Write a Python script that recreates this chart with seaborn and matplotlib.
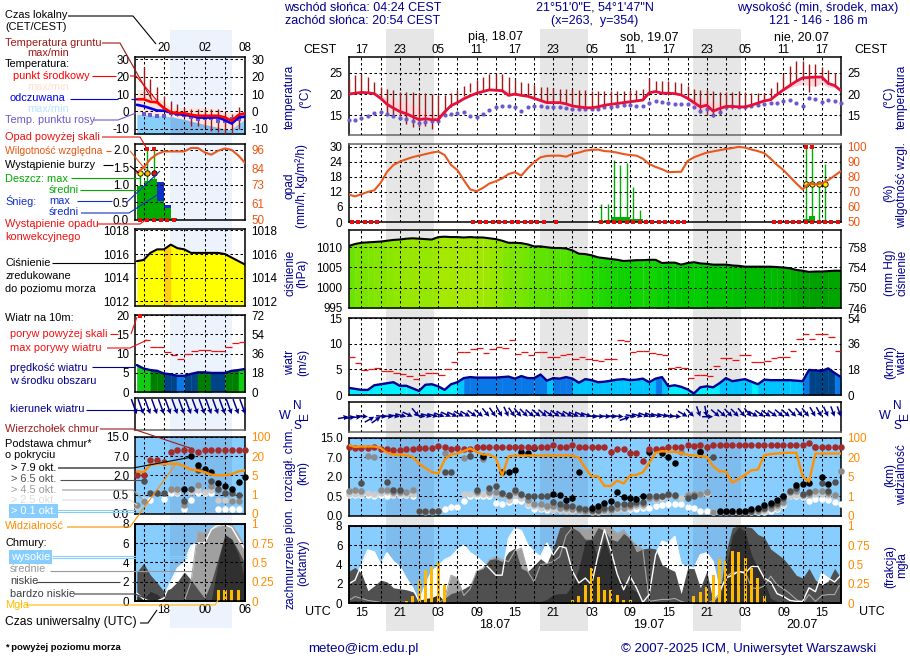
import numpy as np
import matplotlib
matplotlib.use("Agg")
import matplotlib.pyplot as plt
from matplotlib.colors import LinearSegmentedColormap, Normalize
import seaborn as sns

N = np.nan
NAVY = '#000090'
RH_COL = '#e8581f'
VIS_COL = '#ff8c00'
FOG_COL = '#ffb900'
SKY = '#87ceff'
SKY_NIGHT = '#7fbcee'
BROWN = '#a52a2a'

# main panels: hours since 13 UTC on 17.07
hours = np.arange(78)
night_start = [5.9, 29.9, 53.9]
night_end = [13.4, 37.4, 61.4]
grid_hours = np.arange(2, 78, 3)
cest_labels = ['17', '', '23', '', '05', '', '11', '', '17', '', '23', '', '05', '',
               '11', '', '17', '', '23', '', '05', '', '11', '', '17', '']
utc_labels = ['15', '', '21', '', '03', '', '09', '', '15', '', '21', '', '03', '',
              '09', '', '15', '', '21', '', '03', '', '09', '', '15', '']

temp = [20.0, 20.2, 20.4, 20.3, 20.1, 19.0, 17.6, 16.7, 15.9, 15.4,
        14.7, 14.0, 14.2, 14.0, 14.0, 15.8, 17.3, 18.0, 18.9, 19.6,
        20.2, 20.6, 21.0, 20.9, 20.8, 19.7, 20.0, 19.7, 19.5, 19.0,
        18.5, 18.0, 18.0, 18.0, 17.7, 17.2, 17.0, 16.8, 16.8, 17.0,
        17.4, 17.6, 17.8, 18.0, 18.2, 18.4, 18.6, 20.3, 20.6, 20.2,
        20.2, 20.1, 19.8, 19.0, 18.0, 17.0, 17.4, 16.0, 16.6, 17.1,
        17.1, 17.0, 17.0, 17.4, 17.9, 18.4, 18.7, 19.9, 21.0, 22.0,
        23.0, 23.8, 23.9, 24.0, 24.0, 22.5, 22.0, 20.8]
temp_max = [20.2, 20.4, 20.6, 20.5, 20.3, 19.8, 19.0, 18.6, 18.2, 18.0,
            17.5, 16.5, 16.0, 15.5, 15.2, 16.3, 17.5, 18.2, 19.1, 19.8,
            20.4, 20.8, 21.2, 21.2, 21.4, 20.6, 20.2, 19.9, 19.7, 19.2,
            18.7, 18.2, 18.2, 18.2, 17.9, 17.4, 17.2, 17.0, 17.0, 17.2,
            17.6, 17.8, 18.0, 18.2, 18.4, 18.6, 18.8, 20.5, 20.8, 20.4,
            20.4, 20.3, 20.0, 19.4, 19.0, 18.8, 18.5, 18.0, 18.0, 17.7,
            17.4, 17.2, 17.2, 17.6, 18.1, 18.6, 18.9, 20.1, 21.2, 22.2,
            23.2, 24.0, 24.1, 24.2, 24.2, 22.9, 22.2, 21.0]
temp_min = [19.8, 20.0, 20.2, 20.1, 19.9, 18.8, 17.4, 16.5, 15.7, 15.2,
            14.5, 13.8, 14.0, 13.8, 13.8, 15.6, 17.1, 17.8, 18.7, 19.4,
            20.0, 20.4, 20.8, 20.7, 20.6, 19.5, 19.8, 19.5, 19.3, 18.8,
            18.3, 17.8, 17.8, 17.8, 17.5, 17.0, 16.8, 16.6, 16.6, 16.8,
            17.2, 17.4, 17.6, 17.8, 18.0, 18.2, 18.4, 20.1, 20.4, 20.0,
            20.0, 19.9, 19.6, 18.8, 17.0, 16.2, 16.6, 15.4, 16.0, 16.8,
            16.9, 16.8, 16.8, 17.2, 17.7, 18.2, 18.5, 19.7, 20.8, 21.4,
            22.0, 22.2, 22.0, 21.8, 22.5, 21.6, 21.6, 20.6]
ground_max = [23.5, 24.4, 24.7, 24.1, 22.9, 21.7, 21.1, 20.9, 20.5, 20.5,
              20.4, 20.2, 20.2, 20.0, 19.9, 19.8, 20.2, 20.9, 21.9, 22.7,
              23.4, 24.0, 24.7, 24.7, 24.8, 24.1, 23.6, 22.9, 22.5, 22.1,
              21.6, 21.6, 21.5, 21.3, 21.3, 21.1, 20.9, 20.9, 20.8, 20.8,
              20.8, 20.8, 20.8, 20.8, 21.0, 21.0, 21.3, 23.7, 23.0, 23.0,
              23.0, 22.9, 22.5, 21.9, 21.2, 20.9, 20.9, 20.8, 20.5, 20.5,
              20.5, 20.7, 20.4, 20.3, 20.3, 20.3, 21.5, 22.9, 24.7, 26.6,
              27.8, 27.7, 27.0, 27.0, 26.4, 25.6, 25.0, 21.9]
ground_min = [20.0, 20.4, 20.4, 20.3, 20.1, 19.0, 15.0, 14.6, 14.8, 13.0,
              12.3, 12.2, 12.5, 11.7, 13.5, 15.5, 17.0, 18.0, 19.5, 20.5,
              20.3, 20.7, 21.0, 20.9, 20.8, 19.7, 20.0, 19.7, 19.5, 19.0,
              18.5, 18.0, 18.0, 18.0, 17.7, 17.2, 17.0, 16.8, 16.8, 17.0,
              17.4, 17.6, 17.8, 18.0, 18.2, 18.4, 18.6, 20.3, 20.6, 20.2,
              20.2, 20.1, 19.8, 19.0, 18.0, 15.6, 15.2, 14.7, 15.0, 16.5,
              16.6, 17.0, 17.0, 17.4, 17.9, 18.4, 18.7, 19.9, 21.0, 22.0,
              23.0, 23.8, 20.5, 22.0, 23.5, 22.5, 22.0, 20.8]
dew = [13.9, 13.9, 14.5, 14.8, 15.5, 15.9, 15.4, 14.8, 14.5, 14.1,
       13.8, 13.3, 13.5, 13.8, 13.6, 15.1, 15.4, 15.6, 15.7, 14.8,
       14.6, 15.4, 16.3, 17.0, 17.3, 17.3, 17.0, 16.0, 16.9, 17.3,
       17.3, 17.0, 17.0, 16.9, 16.7, 16.6, 16.5, 16.5, 16.6, 16.6,
       16.9, 17.0, 17.3, 17.4, 17.4, 17.2, 17.2, 18.0, 18.4, 18.2,
       17.8, 17.7, 17.7, 17.7, 17.0, 16.0, 16.5, 15.2, 15.7, 17.0,
       17.2, 17.0, 17.0, 17.2, 17.4, 17.7, 17.8, 18.0, 18.4, 18.6,
       17.8, 17.3, 19.0, 18.8, 18.2, 18.6, 18.4, 17.8]

humidity = [68.2, 67, 68.4, 70, 71, 76, 83.3, 87.8, 90, 91.6,
            93, 94, 95, 96, 96.7, 94.4, 87.8, 84.4, 77.8, 71.6,
            70.4, 72.6, 75.5, 77, 78.9, 81.8, 83, 80.7, 85.6, 89.6,
            92.9, 93.8, 94, 94, 93.3, 95.1, 96, 97.3, 97.8, 98,
            97, 96.7, 96, 95, 94.4, 94, 92, 88.4, 86.5, 85,
            83, 83.2, 83.3, 90.4, 92.9, 94.5, 96, 96.8, 97.6, 98.4,
            99, 99.8, 99.3, 98, 97, 95.6, 92, 87.8, 84.4, 80,
            75.6, 71.6, 75.6, 74.9, 75.6, 77.8, 80.7, 83.8]
rain_max_hours = [38.5, 39.5, 40.5, 41.5, 42.5, 43.5, 44.5, 45.5, 46.5, 47.5, 71.5, 72.5, 73.5, 74.5]
rain_max = [0.5, 7.3, 7.3, 24.7, 22.7, 23.6, 14, 4.7, 1.3, 0.5, 30, 30, 16, 23]
rain_mean_hours = [39.5, 40.5, 41.5, 42.5, 43.5, 44.5, 45.5, 71.5, 72.5]
rain_mean = [0.4, 0.7, 2, 2, 2, 1.3, 1.3, 1.3, 2.3]
precip_hours = [0.5, 1.5, 2.5, 3.5, 4.5, 19.5, 20.5, 21.5, 22.5, 23.5, 24.5, 25.5, 26.5, 27.5, 28.5,
                29.5, 30.5, 32.5, 39.5, 40.5, 41.5, 42.5, 43.5, 44.5, 45.5, 46.5, 47.5, 48.5, 49.5,
                50.5, 51.5, 52.5, 66.5, 67.5, 68.5, 69.5, 70.5, 71.5, 72.5, 73.5, 74.5, 75.5, 76.5]
over_scale_hours = [71.5, 72.5]
storm_hours = [71.5, 72.5, 73.5, 74.5]

pressure = [1010.3, 1010.8, 1011.1, 1011.2, 1011.3, 1011.4, 1011.6, 1011.8, 1011.9, 1012.1,
            1012.2, 1012.1, 1012.0, 1011.9, 1012.5, 1012.6, 1012.5, 1012.5, 1012.4, 1012.5,
            1012.4, 1012.4, 1012.2, 1012.0, 1011.6, 1011.1, 1011.1, 1011.0, 1010.7, 1010.2,
            1010.2, 1010.0, 1009.8, 1009.8, 1009.7, 1009.2, 1008.4, 1008.3, 1008.0, 1007.5,
            1007.3, 1007.1, 1006.9, 1006.6, 1006.7, 1006.8, 1006.8, 1006.9, 1006.9, 1006.1,
            1006.2, 1006.2, 1005.7, 1006.1, 1006.3, 1006.0, 1005.9, 1005.7, 1005.7, 1005.7,
            1005.5, 1005.4, 1005.2, 1005.2, 1005.2, 1005.2, 1005.2, 1005.1, 1005.0, 1004.8,
            1004.4, 1004.2, 1003.9, 1004.0, 1004.0, 1004.1, 1004.2, 1004.2]

wind = [1.4, 1.2, 1.0, 1.0, 1.9, 2.1, 2.3, 2.5, 1.8, 1.8,
        1.3, 0.8, 2.0, 2.1, 1.7, 1.0, 2.1, 2.5, 3.3, 3.5,
        3.4, 3.4, 3.4, 3.4, 3.5, 3.6, 3.2, 3.7, 3.3, 3.3,
        4.0, 2.8, 3.3, 3.2, 3.5, 3.2, 2.4, 3.1, 2.9, 2.5,
        2.6, 2.8, 3.0, 3.1, 2.9, 3.0, 3.2, 2.5, 3.2, 3.5,
        1.7, 1.9, 1.6, 1.1, 0.3, 1.5, 1.7, 1.5, 2.3, 3.3,
        2.7, 2.9, 3.1, 2.6, 2.1, 3.0, 2.9, 2.9, 2.9, 2.9,
        2.8, 2.7, 4.9, 4.8, 4.7, 5.2, 4.3, 3.5]
gust = [7.5, 6.3, 4.9, 5, 5.2, 4.6, 4.6, 4.3, 4.1, 3.7,
        3.1, 3.9, 4.3, 4.3, 3.9, 5.1, 6.4, 8.4, 8.4, 8.9,
        9.1, 8.2, 8.9, 9.3, 9.1, 10.7, 8.1, 8.4, 7.8, 8.4,
        8.4, 7.5, 7.5, 7.9, 8.1, 7.1, 7.5, 7.1, 6.8, 6.7,
        7.0, 7.1, 10.7, 10.5, 8.4, 8.6, 8.7, 8.3, 8.1, 7.9,
        5.3, 5.5, 5.3, 3.3, 3.9, 3.9, 3.7, 5.7, 7.3, 7.3,
        6.9, 7.9, 7.9, 6.5, 6.5, 6.7, 7.3, 7.5, 7.5, 8.6,
        10.9, 12, 10.9, 12, 12, 11.3, 8.7]
wind_angle = [10, 10, 5, -5, 30, 35, -5, -5, -10, -15,
              -25, -50, -10, -15, -15, -20, -25, -25, -30, -30,
              -35, -40, -50, -55, -60, -65, -55, -50, -45, -40,
              -40, -40, -35, -35, -30, -30, -25, -25, -20, -5,
              -5, -5, -5, -5, 20, -10, -15, -20, -20, -15,
              -15, -10, -5, -30, -45, -70, -80, 0, -40, -40,
              -45, -45, -50, -50, -30, -35, -35, -35, -40, -40,
              -45, -50, -50, -60, -60, -65, -70, -70]

# cloud layer bases and tops, km
base_top = [11.2, 10.8, 10.8, 10.8, 11.0, 10.5, 10.3, 10.1, 10.1, 10.3,
            10.5, 10.8, 10.8, 10.8, 11.5, 11.0, 10.5, 10.8, 10.5, 10.5,
            11.2, 11.2, 11.2, 11.2, 11.2, 11.2, 11.2, 11.2, 11.2, 11.2,
            11.2, 11.2, 12.1, 11.2, 11.2, 12.0, 11.2, 11.2, 11.3, 11.2,
            11.0, 9.3, 10.5, 10.3, 8.9, 8.7, 6.0, 10.5, 10.5, 10.3,
            11.2, 11.2, 11.2, 12, 11.6, 11.9, 11.2, 12, 12, 12,
            12, 12, 12, 12, 12, 12, 12, 12, 12, 12,
            12, 12, 12.9, 11, 11.2, 11.2, 11.2, 11.2]
base_79 = [N, N, N, N, N, N, N, N, N, N,
           N, N, N, N, N, N, N, N, N, N,
           N, 7.6, N, N, 3.1, 3.1, 3.6, 9.1, 8.8, 10.6,
           N, N, .65, .6, .4, .45, 3.2, N, .2, .25,
           .32, .38, .8, .47, .45, .43, .5, 9.3, N, 8.8,
           7, 5.5, N, N, N, 9, N, N, .12, .12,
           .12, .12, .12, .17, .2, .27, .32, .4, .55, N,
           1.4, 1.45, 1.5, N, 2, 1.45, N, N]
base_65 = [N, N, 1.5, N, N, N, 1.6, 1, 1, N,
           N, .13, .13, .13, .13, 3.2, 3.1, N, N, 7.5,
           1, 7, 1.1, 1.25, .75, .57, 1, .7, .55, .5,
           .5, .5, .35, .3, .25, .25, .2, .17, .15, .15,
           .2, .2, .3, .3, .3, .35, .35, .5, .5, .55,
           .65, .6, N, .45, .5, 9.5, N, 7, .1, .1,
           .1, .1, .1, .13, .17, .2, .27, .33, .45, .9,
           1.1, .7, .8, 11, 1.5, .9, 1.6, N]
base_45 = [.9, 1, .9, 7.4, 7.2, 1, 1, .85, .85, .8,
           1, N, .1, .1, .13, 8.9, N, N, 6.8, 7.4,
           .86, 6.6, .8, .85, .7, .5, .85, .6, .4, .3,
           .3, .25, .25, .2, .2, .17, .15, .13, .12, .12,
           .15, .15, .2, .2, .25, .3, .3, .45, .45, .5,
           .6, .55, 9, .6, .7, .7, .8, .1, N, N,
           N, N, N, .1, .13, .17, .2, .27, .35, .8,
           .9, .6, .7, .9, .9, .75, .6, 3.4]
base_25 = [.7, .7, .7, .75, .7, .75, .8, .7, .7, .7,
           .65, N, N, .12, .15, N, N, N, .65, .7,
           .7, .7, .65, .65, .6, .4, .6, .45, .3, .25,
           .2, .2, .15, .15, .13, .13, .12, .12, .1, .1,
           .13, .13, .15, .15, .2, .25, .25, .45, .4, .45,
           .5, .5, .45, .6, .65, .65, .7, N, N, N,
           N, N, N, N, .1, .13, .17, .2, .3, .5,
           .6, .5, .6, .7, .7, .6, .55, N]
base_01 = [.6, .58, .58, .58, .55, .58, .55, .58, .58, .58,
           .55, .13, .13, .13, .13, .17, .23, .22, .37, .55,
           .55, .55, .55, .32, .3, .34, .38, .38, .28, .17,
           .17, .15, .15, .14, .14, .12, .12, .12, .12, .12,
           .13, .15, .16, .17, .17, .17, .19, .2, .25, .28,
           .3, .3, .3, .23, .2, .13, .13, .1, .1, .1,
           .1, .1, .1, .1, .1, .1, .13, .17, .28, .52,
           .5, .47, .38, .43, .43, .41, .36, .3]
visibility = [70, 62, 64, 64, 64, 58, 38, 31, 31, 28,
              22, 15, 11.7, 8.6, 7.4, 18, 31, 35, 45, 56,
              42, 31, 31, 19.5, 5.8, 24, 27, 27, 27, 27,
              27, 27, 27, 27, 27, 27, 19.5, 11.7, 5.3, 5.3,
              3.1, 3.1, 4.2, 3.6, 5.8, 6.5, 8.3, 15.5, 38, 45,
              42, 42, 36, 30, 27, 24, 21.6, 13, 9.2, 8.9,
              3.8, 4.5, 6.5, 10, 10.4, 28, 33, 35, 38, 38,
              38, 5.3, 4, 35, 35, 35, 35, 35]

# cloud cover, octants
cloud_high = [2, 2.4, 4, 5.5, 5.3, 4, 5.2, 4.3, 3.8, 2.6,
              1.6, .2, 1.9, 3.3, 3.8, 4.5, 4.8, 5.5, 6, 5.2,
              4.8, 4.2, 3.6, 2.9, 2.9, 6.7, 7.7, 7.5, 6, 5.3,
              4.8, 6.2, 5, 5.9, 5.7, 3.3, 2.1, 2.6, 1.9, 5,
              7.6, 5.5, 3, 1.4, 2.8, 1.6, .1, .9, 5, 6.4,
              6.2, 6.9, 4, 3.8, 3.6, 5, 5.2, 4.3, 1.2, 2.6,
              2.9, 3.3, 3.1, 3.8, 3.8, 2.6, 2.2, 1, .7, .3,
              .2, .2, 1.6, 1.2, 3.1, 2.6, 2.2, 2.9]
cloud_mid = [.3, .7, .5, .3, .2, .1, .1, .1, .1, .1,
             0, 0, 0, 0, 0, .5, 2.9, 2.6, .8, 1.5,
             3.3, 3.6, 4.5, 4.8, 4.5, 4.3, 5.4, 5.7, 3.3, 2.2,
             4, 4.1, 4.3, 4.8, 7, 7.8, 7.8, 7.6, 7.8, 7.9,
             7.9, 7.8, 7.2, 7.6, 6.7, 6, 5.6, .2, .3, .4,
             .4, .5, .2, 0, 0, 0, 0, .3, 1, 2.7,
             3.2, 3.2, 3.3, 1.6, 1.5, 1.8, 2.8, 1.9, 1.5, 1,
             .4, 0, .9, .2, .8, .9, .9, 2.2]
cloud_low = [3.3, 3.7, 3.1, 1.3, 1.8, 2.4, 2.2, 1.6, 1.5, 1.4,
             1.2, .5, .2, .2, .4, .5, 1, 1.2, 1.5, 1.9,
             3.4, 3.6, 4.5, 4.6, 4.3, 5.3, 5.7, 3.6, 3.3, 3.9,
             4.6, 4.1, 5.7, 7.8, 8, 7.8, 7.4, 6.6, 6.6, 7.8,
             7.5, 6.6, 6.4, 7.2, 6.7, 5.3, 5.6, 5.7, 5.6, 4,
             3.6, 3.3, 1, 3.6, 3.6, 1.6, 3.3, .2, .9, 5.3,
             7.8, 8, 7.9, 7.8, 7.1, 6.8, 5.6, 5.1, 4.6, 3.8,
             2.9, 2.6, 3.6, 2.4, 1.9, 2.3, 3.6, 2.6]
cloud_vlow = [.2, .3, .2, .1, .1, .1, .1, .1, .1, .1,
              .1, .3, .5, .6, .9, .2, 0, 0, 0, 0,
              0, 0, 0, 0, 0, 0, 0, 0, 0, 0,
              .2, .4, .9, 1, 1, 1.9, 3.6, 6.4, 6.6, 4.6,
              6.7, 4.6, 2.9, 2.2, 1.6, 1.2, .2, 0, 0, 0,
              0, 0, 0, 0, 0, 0, 0, 0, 0, 3.6,
              7, 7.9, 7.4, 5, 3.6, 2.2, .5, .2, .1, 0,
              0, 0, 0, 0, 0, 0, 0, 0]
fog_hours = [9, 10, 11, 12, 13, 14, 15, 35, 36, 37, 38, 39, 40, 41, 42, 43, 44,
             54, 55, 56, 57, 58, 59, 60, 61, 62, 63, 64, 65]
fog = [.03, .1, .3, .43, .47, .53, .24, .04, .09, .24, .46, .34, .17, .17, .11, .04, .04,
       .09, .14, .21, .36, .57, .55, .67, .66, .59, .45, .33, .09]

# legend panels: hours relative to 18 UTC
l_hours = np.arange(-4, 13)
l_grid = [-3, 0, 3, 6, 9, 12]
l_top_labels = ['', '20', '', '02', '', '08']
l_bottom_labels = ['', '18', '', '00', '', '06']
l_night = (0.9, 10.0)
l_temp = [7, 7, 5.6, 5.2, 1.9, -.4, -1, -1, -2, -2.5, -2.5, -2.5, -2.5, -3.5, -5.4, -2, -1]
l_felt = [3.8, 3, 1.8, .5, .4, -.6, -1.5, -2, -2.5, -3.5, -3.6, -3.5, -3.5, -5, -7, -3.5, -3]
l_temp_max = [13, 12, 9.4, 7.5, 6, 2, 2.1, 2.3, 2.3, 2.3, 2, 1.5, 1.3, 0, -.5, -.5, -.5]
l_felt_top = [-1.6, -2, -2.2, -2.4, -2.6, -3, -4, -4.5, -5.5, -9, -10.5, -12.5, -12.5, -12, -10, -7, -4.5]
l_ground_max = [N, 25.4, 18.7, 13.8, 9, 6.2, 4.2, 1.9, 1.3, 1.3, 1.3, 1.3, 1.3, -1.2, -1.5, 2.3, N]
l_ground_min = [N, 7.1, 8, 6, 2.3, -2.5, -2.5, -3.5, -8.3, -8.3, -9.2, -11.2, -12.1, -13, -13, -10.2, N]
l_dew = [N, -1.6, -2.1, -2.5, -2.9, -1.2, -1.6, -2.1, -3.5, -4.4, -3.9, -3.9, -5.4, -5.8, -4.4, -4.4, N]
l_humidity = [81, 84.4, 90, 93.3, 95, 95, 95, 95, 97.3, 97.3, 94.4, 92.9, 95.5, 97, 96, 92.2, 87.3]
l_rain_hours = [-3.5, -2.5, -1.5, -.5, .5, 1.5]
l_rain = [.96, 1.1, 1.17, .53, .34, .06]
l_snow = [0, 0, 0, 1.09, .43, 0]
l_stem_hours = [-3.5, -2.5, -1.5]
l_stem_top = [1.35, 2, 2]
l_storm_cols = ['#ffee00', '#ffb000', '#ee1100']
l_over_hours = [-2.5, -1.5]
l_pressure = [1015.4, 1015.5, 1016.1, 1016.4, 1016.4, 1016.8, 1016.5, 1016.4, 1016.1,
              1016.1, 1016.1, 1016.1, 1016.1, 1016, 1015.7, 1015.4, 1015.1]
l_wind = [7, 6.1, 5.7, 5.5, 4.8, 4.6, 4.2, 4.2, 4.7, 5.1, 5.1, 4.95, 4.95, 4.95, 5.5, 5.7, 6]
l_gust = [N, 13.5, 11.6, 11.6, 10.5, 9.6, 8.7, 9.8, 10.7, 10.9, 10.9, 10.6, 10.6, 11.6, 12.7, 13]
l_angle = [-70] * 17
l_base_top = [2, 2, 6, 6, 5.5, 8.6, 9.7, 9.7, 9.7, 8.8, 9.7, 9.7, 9.7, 9.7, 9.7, 9.7, 9.7]
l_base_79 = [N, N, N, N, N, N, N, .92, 7, 4.7, 3.6, 2.9, 1.4, 1.2, .92, 1.5, 1.9]
l_base_65 = [N, 1.55, .64, .64, .64, N, N, .33, .92, 3.4, N, 1.54, .92, .64, .6, .49, N]
l_base_45 = [.23, .33, N, .6, N, .92, .92, .23, N, 1.23, N, 1.18, .85, N, .33, .33, N]
l_base_25 = [.19, N, N, N, N, .85, .72, N, .72, .85, .72, .85, .36, .36, .36, N, N]
l_base_01 = [N, .36, .36, N, .4, .64, .64, .12, .36, .64, .64, .64, .12, .12, .12, .12, N]
l_visibility = [8, 7.6, 13, 14, 14, 14, 14, 12, 9.4, 8.9, 7.6, 5.5, 5, 5.2, 6, 8, 8.9]
l_cloud_high = [.8, .2, 0, 0, .3, 2, 3.4, 4, 5.7, 6, 6, 7.4, 7.9, 7.9, 7.6, 6.4, 5.3]
l_cloud_mid = [0, 0, 0, 0, 0, 0, 0, 0, 2, 7.2, 7, 7.5, 7.7, 7.9, 7.9, 6.9, 5.5]
l_cloud_low = [3, 3.9, 2.7, 1.9, 1, 1.3, 2, 3, 2.2, 1.2, .3, 2, 4.4, 6.9, 6.4, 5.2, 3.8]
l_cloud_vlow = [.5, .2, 1, .7, 0, 0, 0, 0, 0, 0, 0, .1, 4, 6.8, 6.4, 4.8, 2]
l_fog_hours = [8, 9, 10, 11]
l_fog = [.14, .14, .14, .14]

km_ticks = [0, .5, 2, 7, 15]
vis_ticks = [0, 1, 5, 20, 100]
tick_slots = [0, 1, 2, 3, 4]

sns.set_style('white')
plt.rcParams['font.family'] = ['Liberation Sans', 'DejaVu Sans']
plt.rcParams['axes.unicode_minus'] = False
TICK_SIZE = 8.4
TEXT_SIZE = 8.6
LEFT_SIZE = 7.9
HEAD_SIZE = 9.0
FOOT_SIZE = 9.5

fig = plt.figure(figsize=(9.1, 6.6), dpi=100, facecolor='white')


def px_axes(left, top, right, bottom, **kw):
    ax = fig.add_axes([left / 910, 1 - bottom / 660, (right - left) / 910, (bottom - top) / 660], **kw)
    ax.set_facecolor('none')
    return ax


def slot_scale(ticks):
    return (lambda v: np.interp(v, ticks, tick_slots), lambda v: np.interp(v, tick_slots, ticks))


def style(ax, xlim, grid_x, ylim, yticks, ylabels=None, grid=True):
    ax.set_xlim(*xlim)
    ax.set_ylim(*ylim)
    ax.set_xticks(grid_x)
    ax.set_xticklabels([])
    ax.set_yticks(yticks)
    ax.set_yticklabels(ylabels if ylabels else [str(t) for t in yticks])
    ax.minorticks_off()
    ax.tick_params(axis='both', length=0, labelsize=TICK_SIZE, pad=4.5, colors='black')
    ax.grid(grid, color='black', linestyle=(0, (2.4, 2.4)), linewidth=0.75)
    ax.set_axisbelow(False)
    for spine in ax.spines.values():
        spine.set_linewidth(1.1)
        spine.set_color('black')
        spine.set_visible(True)


def right_axis(ax, ylim, yticks, color='black', labels=None):
    twin = ax.twinx()
    twin.set_facecolor('none')
    twin.set_ylim(*ylim)
    twin.set_yticks(yticks)
    twin.set_yticklabels(labels if labels else [str(t) for t in yticks])
    twin.minorticks_off()
    twin.tick_params(axis='y', length=0, labelsize=TICK_SIZE, pad=4.5, labelcolor=color)
    twin.grid(False)
    for spine in twin.spines.values():
        spine.set_visible(False)
    return twin


def line(ax, x, y, color, width, zorder=3, **kw):
    sns.lineplot(x=list(x), y=list(y), ax=ax, color=color, linewidth=width, zorder=zorder,
                 estimator=None, legend=False, **kw)


def dots(ax, x, y, color, size, marker='o', zorder=3, **kw):
    sns.scatterplot(x=list(x), y=list(y), ax=ax, color=color, s=size, marker=marker,
                    linewidth=kw.pop('linewidth', 0), zorder=zorder, legend=False, clip_on=False, **kw)


def wind_color(speed):
    if speed < 2.45:
        return '#00f0ff'
    if speed < 3.15:
        return '#00c4ff'
    if speed < 4.4:
        return '#0a78e6'
    if speed < 5.0:
        return '#004488'
    if speed < 5.8:
        return '#008000'
    return '#11cc11'


def wind_area(ax, x, speed):
    for i in range(len(x) - 1):
        ax.fill_between(x[i:i + 2], 0, speed[i:i + 2], color=wind_color((speed[i] + speed[i + 1]) / 2),
                        linewidth=0.3, zorder=1)
    line(ax, x, speed, '#000090', 1.7)


def arrows(ax, x, length, angle):
    # arrow length on the meteogram does not follow the wind speed, only the direction
    rad = np.radians(angle)
    ax.quiver(x, np.zeros(len(x)), np.cos(rad), np.sin(rad),
              angles='uv', scale_units='dots', scale=1 / length, pivot='tip', units='dots', width=1.5,
              headwidth=3.6, headlength=3.6, headaxislength=3.2, color='#000090', clip_on=False, zorder=3)


def cloud_area(ax, x, high, mid, low, vlow):
    ax.fill_between(x, 0, high, color='white', linewidth=0, zorder=1)
    ax.fill_between(x, 0, mid, color='#a0a0a0', linewidth=0, zorder=1.1)
    ax.fill_between(x, 0, low, color='#505050', linewidth=0, zorder=1.2)
    ax.fill_between(x, 0, vlow, color='#303030', linewidth=0, zorder=1.3)
    line(ax, x, mid, '#a8a8a8', 0.8, zorder=1.5)
    line(ax, x, high, 'white', 1.0, zorder=1.6)


# night bands behind every panel
band_main = px_axes(348.7, 29, 841, 631, zorder=0)
band_main.axis('off')
band_main.set_xlim(0, 77)
for start, end in zip(night_start, night_end):
    band_main.axvspan(start, end, color='#e6e6e6', linewidth=0)
band_left = px_axes(135.3, 30, 245.3, 628, zorder=0)
band_left.axis('off')
band_left.set_xlim(-4.22, 12)
band_left.axvspan(*l_night, color='#edf3fd', linewidth=0)

MAIN_X = (348.7, 841)
LEFT_X = (135.3, 245.3)
xlim_main = (0, 77)
xlim_left = (-4.22, 12)

# --- main temperature
ax = px_axes(MAIN_X[0], 57, MAIN_X[1], 135, zorder=1)
style(ax, xlim_main, grid_hours, (10.4, 28.7), [15, 20, 25])
ax.spines['bottom'].set_color('#666666')
ax.tick_params(axis='y', labelright=True)
ax.xaxis.tick_top()
ax.set_xticklabels(cest_labels)
ax.tick_params(axis='x', length=0, pad=0.5)
ax.fill_between(hours, temp_min, temp_max, color='#ffd6dc', linewidth=0, zorder=1)
ax.vlines(hours, ground_min, ground_max, color='#a01818', linewidth=1.0, zorder=2.7)
dots(ax, hours, dew, '#6a5acd', 9, marker='o')
line(ax, hours, temp, '#e6103a', 2.0)

# --- main rain / humidity
ax = px_axes(MAIN_X[0], 144, MAIN_X[1], 222, zorder=1)
style(ax, xlim_main, grid_hours, (0, 31), [0, 6, 12, 18, 24, 30])
ax.spines['top'].set_color('#666666')
ax.bar(rain_mean_hours, rain_mean, width=1, color='#00b000', linewidth=0, zorder=1)
ax.vlines(rain_max_hours, 0, rain_max, color='#00b000', linewidth=1.0, zorder=1.5)
dots(ax, precip_hours, [0] * len(precip_hours), '#e01010', 5, marker='s')
dots(ax, over_scale_hours, [30] * len(over_scale_hours), '#e01010', 9, marker='s')
dots(ax, storm_hours, [15] * len(storm_hours), '#ffee00', 15, edgecolor='black', linewidth=0.6)
rh = right_axis(ax, (50, 101.7), [50, 60, 70, 80, 90, 100], color='#ee5511')
line(rh, hours, humidity, RH_COL, 1.5)

# --- main pressure
ax = px_axes(MAIN_X[0], 230, MAIN_X[1], 308, zorder=1)
style(ax, xlim_main, grid_hours, (995, 1014.25), [995, 1000, 1005, 1010])
press_cmap = LinearSegmentedColormap.from_list(
    'press', ['#00a000', '#00cc00', '#33e000', '#66e400', '#a6e800'])
press_norm = Normalize(1003.9, 1012.6)
for i in range(len(hours) - 1):
    ax.fill_between(hours[i:i + 2], 995, pressure[i:i + 2],
                    color=press_cmap(press_norm((pressure[i] + pressure[i + 1]) / 2)), linewidth=0.3, zorder=1)
line(ax, hours, pressure, 'black', 1.5)
right_axis(ax, (746, 761.4), [746, 750, 754, 758])

# --- main wind
ax = px_axes(MAIN_X[0], 318.3, MAIN_X[1], 395, zorder=1)
style(ax, xlim_main, grid_hours, (0, 15), [0, 5, 10, 15])
wind_area(ax, hours, wind)
ax.hlines(gust, hours[:-1], hours[1:], color='#ee1111', linewidth=0.9, zorder=3)
right_axis(ax, (0, 54), [0, 18, 36, 54])

# --- main wind direction
ax = px_axes(MAIN_X[0], 401.7, MAIN_X[1], 431.7, zorder=2)
style(ax, xlim_main, grid_hours, (-1, 1), [])
ax.spines['bottom'].set_color('#666666')
ax.yaxis.grid(False)
arrows(ax, hours, 11, wind_angle)

# --- main cloud base / visibility
ax = px_axes(MAIN_X[0], 437.7, MAIN_X[1], 515.7, zorder=1)
ax.set_yscale('function', functions=slot_scale(km_ticks))
style(ax, xlim_main, grid_hours, (0, 15), km_ticks, ['0.0', '0.5', '2.0', '7.0', '15.0'])
ax.set_facecolor(SKY)
for start, end in zip(night_start, night_end):
    ax.axvspan(start, end, color=SKY_NIGHT, linewidth=0, zorder=0.5)
for layer, col in zip([base_01, base_25, base_45, base_65, base_79, base_top],
                      ['white', '#cccccc', '#8c8c8c', '#505050', 'black', BROWN]):
    dots(ax, hours, layer, col, 22)
vis_ax = right_axis(ax, (0, 100), vis_ticks, color=VIS_COL)
vis_ax.set_yscale('function', functions=slot_scale(vis_ticks))
vis_ax.set_ylim(0, 100)
vis_ax.set_yticks(vis_ticks)
vis_ax.set_yticklabels([str(t) for t in vis_ticks])
vis_ax.minorticks_off()
line(vis_ax, hours, visibility, '#ff9000', 1.7)

# --- main clouds / fog
ax = px_axes(MAIN_X[0], 525.7, MAIN_X[1], 603.3, zorder=1)
style(ax, xlim_main, grid_hours, (0, 8), [0, 2, 4, 6, 8], grid=False)
ax.set_facecolor(SKY)
for start, end in zip(night_start, night_end):
    ax.axvspan(start, end, color=SKY_NIGHT, linewidth=0, zorder=0.5)
cloud_area(ax, hours, cloud_high, cloud_mid, cloud_low, cloud_vlow)
ax.set_xticklabels(utc_labels)
ax.tick_params(axis='x', length=0, pad=2.5)
fog_ax = px_axes(MAIN_X[0], 525.7, MAIN_X[1], 603.3, zorder=1.5)
style(fog_ax, xlim_main, grid_hours, (0, 1), [0, .25, .5, .75, 1], ['0', '0.25', '0.5', '0.75', '1'])
fog_ax.yaxis.tick_right()
fog_ax.tick_params(axis='y', labelcolor=VIS_COL, length=0)
fog_ax.bar(fog_hours, fog, width=0.47, color=FOG_COL, linewidth=0, zorder=1)

# --- legend temperature
ax = px_axes(LEFT_X[0], 57.3, LEFT_X[1], 134.3, zorder=1)
style(ax, xlim_left, l_grid, (-13.2, 31.2), [-10, 0, 10, 20, 30])
ax.tick_params(axis='y', labelright=True)
ax.xaxis.tick_top()
ax.set_xticklabels(l_top_labels)
ax.tick_params(axis='x', length=0, pad=2.5)
ax.fill_between(l_hours, l_felt_top, l_temp_max, color='#ffe6dc', linewidth=0, zorder=0.8)
ax.fill_between(l_hours, -13.2, l_felt_top, color='#87cefa', linewidth=0, zorder=0.9)
ax.fill_between([0.9, 10], [-13.2, -13.2], [-2.9, -11], color='#7fb8ea', linewidth=0, zorder=0.95)
ax.vlines(l_hours, l_ground_min, l_ground_max, color='#a01818', linewidth=1.0, zorder=2.7)
dots(ax, l_hours, l_dew, '#6a5acd', 9, marker='s')
line(ax, l_hours, l_felt, '#0000ee', 1.9)
line(ax, l_hours, l_temp, '#ff0000', 1.9)

# --- legend rain
ax = px_axes(LEFT_X[0], 144, LEFT_X[1], 220, zorder=1)
style(ax, xlim_left, l_grid, (0, 2.17), [0, .5, 1, 1.5, 2], ['0.0', '0.5', '1.0', '1.5', '2.0'])
ax.bar(l_rain_hours, l_snow, width=1, color='#1030c8', linewidth=0, zorder=1)
ax.bar(l_rain_hours, l_rain, width=1, color='#00aa00', linewidth=0, zorder=1.1)
ax.vlines(l_stem_hours, 0, l_stem_top, color='#00aa00', linewidth=1.0, zorder=1.5)
dots(ax, l_rain_hours, [0] * len(l_rain_hours), '#e01010', 5, marker='s')
dots(ax, l_over_hours, [2.04] * 2, '#ee1111', 9, marker='s')
for hour, col in zip(l_stem_hours, l_storm_cols):
    dots(ax, [hour], [1.35], col, 15, edgecolor='black', linewidth=0.6)
rh = right_axis(ax, (50, 99.9), [50, 61, 73, 84, 96], color='#ee5511')
line(rh, l_hours, l_humidity, RH_COL, 1.5)

# --- legend pressure
ax = px_axes(LEFT_X[0], 229.3, LEFT_X[1], 306, zorder=1)
style(ax, xlim_left, l_grid, (1011.6, 1018.1), [1012, 1014, 1016, 1018])
ax.fill_between(l_hours, 1011.6, l_pressure, color='#ffff00', linewidth=0, zorder=1)
ax.fill_between(l_hours[4:6], 1011.6, l_pressure[4:6], color='#ffcc10', linewidth=0, zorder=1.1)
line(ax, l_hours, l_pressure, 'black', 1.5)
right_axis(ax, (1011.6, 1018.1), [1012, 1014, 1016, 1018])

# --- legend wind
ax = px_axes(LEFT_X[0], 315, LEFT_X[1], 392, zorder=1)
style(ax, xlim_left, l_grid, (0, 20), [0, 5, 10, 15, 20])
wind_area(ax, l_hours, l_wind)
ax.hlines(l_gust, l_hours[:-1], l_hours[1:], color='#ee1111', linewidth=0.9, zorder=3)
dots(ax, [-3.6], [19.8], '#ee1111', 9, marker='s')
right_axis(ax, (0, 72), [0, 18, 36, 54, 72])

# --- legend wind direction
ax = px_axes(LEFT_X[0], 398.3, LEFT_X[1], 430, zorder=2)
style(ax, xlim_left, l_grid, (-1, 1), [])
ax.yaxis.grid(False)
ax.spines['bottom'].set_color('#666666')
arrows(ax, l_hours, 16, l_angle)

# --- legend cloud base
ax = px_axes(LEFT_X[0], 436.7, LEFT_X[1], 514, zorder=1)
ax.set_yscale('function', functions=slot_scale(km_ticks))
style(ax, xlim_left, l_grid, (0, 15), km_ticks, ['0.0', '0.5', '2.0', '7.0', '15.0'])
ax.set_facecolor(SKY)
ax.axvspan(*l_night, color=SKY_NIGHT, linewidth=0, zorder=0.5)
for layer, col in zip([l_base_01, l_base_25, l_base_45, l_base_65, l_base_79, l_base_top],
                      ['white', '#cccccc', '#8c8c8c', '#505050', 'black', BROWN]):
    dots(ax, l_hours, layer, col, 22)
vis_ax = right_axis(ax, (0, 100), vis_ticks, color=VIS_COL)
vis_ax.set_yscale('function', functions=slot_scale(vis_ticks))
vis_ax.set_ylim(0, 100)
vis_ax.set_yticks(vis_ticks)
vis_ax.set_yticklabels([str(t) for t in vis_ticks])
vis_ax.minorticks_off()
line(vis_ax, l_hours, l_visibility, '#ff9000', 1.7)

# --- legend clouds
ax = px_axes(LEFT_X[0], 523.7, LEFT_X[1], 601, zorder=1)
style(ax, xlim_left, l_grid, (0, 8), [0, 2, 4, 6, 8], grid=False)
ax.set_facecolor(SKY)
ax.axvspan(*l_night, color=SKY_NIGHT, linewidth=0, zorder=0.5)
cloud_area(ax, l_hours, l_cloud_high, l_cloud_mid, l_cloud_low, l_cloud_vlow)
ax.set_xticklabels(l_bottom_labels)
ax.tick_params(axis='x', length=0, pad=2.5)
fog_ax = px_axes(LEFT_X[0], 523.7, LEFT_X[1], 601, zorder=1.5)
style(fog_ax, xlim_left, l_grid, (0, 1), [0, .25, .5, .75, 1], ['0', '0.25', '0.5', '0.75', '1'])
fog_ax.yaxis.tick_right()
fog_ax.tick_params(axis='y', labelcolor=VIS_COL, length=0)
fog_ax.bar(l_fog_hours, l_fog, width=0.47, color=FOG_COL, linewidth=0, zorder=1)

# --- overlay for labels and leader lines, in image pixels
over = px_axes(0, 0, 910, 660, zorder=5)
over.set_xlim(0, 910)
over.set_ylim(660, 0)
over.axis('off')


def text(x, y, s, color='black', ha='left', size=TEXT_SIZE, **kw):
    over.text(x, y, s, color=color, ha=ha, va='center', fontsize=size, **kw)


def vtext(x, y, s, color=NAVY, size=TEXT_SIZE):
    over.text(x, y, s, color=color, ha='center', va='center', rotation=90, fontsize=size)


PINK = '#ffe0d0'
LIGHT = '#b8e4ff'
ORANGE_RED = '#ee5511'
left_labels = [
    (5, 15, 'Czas lokalny', 'black'), (5, 27, '(CET/CEST)', 'black'),
    (5, 43, 'Temperatura gruntu', '#a01818'), (27, 53, 'max/min', '#a01818'),
    (5, 64, 'Temperatura:', 'black'), (13, 76, 'punkt środkowy', '#ff0000'),
    (27, 87, 'max/min', PINK), (10, 98, 'odczuwana', '#0000ee'), (27, 109, 'max/min', LIGHT),
    (5, 120, 'Temp. punktu rosy', '#6a5acd'), (5, 137, 'Opad powyżej skali', '#ee1111'),
    (5, 165, 'Wystąpienie burzy', 'black'),
    (5, 179, 'Deszcz: max', '#00aa00'), (49, 190, 'średni', '#00aa00'), (5, 201, 'Śnieg:', '#1030c8'),
    (49, 201, 'max', '#1030c8'), (49, 212, 'średni', '#1030c8'),
    (5, 224, 'Wystąpienie opadu', '#ee1111'), (5, 237, 'konwekcyjnego', '#ee1111'),
    (5, 263, 'Ciśnienie', 'black'), (5, 276, 'zredukowane', 'black'), (5, 289, 'do poziomu morza', 'black'),
    (5, 318, 'Wiatr na 10m:', 'black'), (10, 334, 'poryw powyżej skali', '#ee1111'),
    (10, 348, 'max porywy wiatru', '#ee1111'), (10, 368, 'prędkość wiatru', NAVY),
    (10, 381, 'w środku obszaru', NAVY), (10, 409, 'kierunek wiatru', NAVY),
    (5, 429, 'Wierzchołek chmur', '#a01818'), (5, 444, 'Podstawa chmur*', 'black'), (5, 455, 'o pokryciu', 'black'),
    (11, 468, '> 7.9 okt.', 'black'), (11, 479, '> 6.5 okt.', '#505050'), (11, 490, '> 4.5 okt.', '#999999'),
    (11, 500, '> 2.5 okt.', '#dcdcdc'), (5, 526, 'Widzialność', VIS_COL), (5, 543, 'Chmury:', 'black'),
    (10, 569, 'średnie', '#999999'), (10, 581, 'niskie', '#404040'), (10, 594, 'bardzo niskie', '#404040'),
    (5, 605, 'Mgła', FOG_COL),
]
for x, y, s, col in left_labels:
    text(x, y, s, col, size=LEFT_SIZE)
text(5, 151, 'Wilgotność względna', ORANGE_RED, size=7.5)
text(5, 622, 'Czas uniwersalny (UTC)', size=8.7)
for x, y, s in [(11, 511, '> 0.1 okt.'), (11, 557, 'wysokie')]:
    text(x, y, s, 'white', size=LEFT_SIZE, bbox=dict(facecolor=SKY, edgecolor='none', pad=1.2))
text(5, 648, '* powyżej poziomu morza', size=6.8, fontweight='bold')

leaders = [
    ('black', [(68, 16), (133, 16), (156, 44)]), ('#a01818', [(102, 43), (120, 43), (152, 100)]),
    ('#ff0000', [(92, 76), (116, 76)]), ('#ff0000', [(130, 76), (136, 76), (165, 110)]),
    ('#0000ee', [(70, 99), (118, 99)]), ('#0000ee', [(131, 99), (137, 99)]),
    ('#6a5acd', [(93, 120), (118, 120), (136, 113)]), ('#ee1111', [(102, 137), (140, 137), (146, 147)]),
    (ORANGE_RED, [(106, 151), (111, 151)]), (ORANGE_RED, [(130, 151), (146, 170)]),
    ('black', [(103, 165), (113, 165)]), ('black', [(130, 166), (139, 173)]),
    ('#00aa00', [(71, 178), (140, 178)]), ('#00aa00', [(80, 190), (150, 190)]),
    ('#1030c8', [(77, 201), (112, 201)]), ('#1030c8', [(126, 203), (160, 171)]),
    ('#1030c8', [(81, 213), (129, 213), (165, 190)]), ('#ee1111', [(97, 224), (140, 224), (147, 219)]),
    ('black', [(52, 263), (135, 263)]), ('#ee1111', [(110, 334), (118, 334)]),
    ('#ee1111', [(131, 334), (137, 317)]), ('#ee1111', [(107, 348), (130, 348), (147, 340)]),
    (NAVY, [(92, 367), (135, 367)]), (NAVY, [(86, 410), (140, 410)]),
    ('#a01818', [(100, 429), (133, 429), (190, 448)]), ('black', [(58, 468), (133, 468), (192, 457)]),
    ('#505050', [(60, 480), (143, 480)]), ('#999999', [(62, 490), (133, 490), (143, 500)]),
    ('#dcdcdc', [(62, 500), (130, 500), (137, 505)]), (SKY, [(55, 510), (135, 510)]), (SKY, [(55, 512), (135, 512)]),
    (VIS_COL, [(67, 527), (130, 527), (175, 465)]), (SKY, [(52, 556), (187, 556)]), (SKY, [(52, 558), (187, 558)]),
    ('#999999', [(50, 571), (192, 571)]), ('#404040', [(36, 582), (120, 582)]), ('#404040', [(132, 582), (136, 582)]),
    ('#404040', [(74, 594), (135, 594), (150, 600)]), (FOG_COL, [(26, 605), (215, 605), (218, 600)]),
    ('black', [(140, 623), (148, 623), (157, 610)]),
]
for col, pts in leaders:
    xs, ys = zip(*pts)
    over.plot(xs, ys, color=col, linewidth=0.8, solid_capstyle='butt')

# header and footer
text(363, 8, 'wschód słońca: 04:24 CEST', NAVY, ha='center', size=HEAD_SIZE)
text(363, 21, 'zachód słońca: 20:54 CEST', NAVY, ha='center', size=HEAD_SIZE)
text(595, 8, '21°51\'0"E, 54°1\'47"N', NAVY, ha='center', size=HEAD_SIZE)
text(595, 21, '(x=263,  y=354)', NAVY, ha='center', size=HEAD_SIZE)
text(818, 8, 'wysokość (min, środek, max)', NAVY, ha='center', size=HEAD_SIZE)
text(818, 21, '121 - 146 - 186 m', NAVY, ha='center', size=HEAD_SIZE)
text(363, 649, 'meteo@icm.edu.pl', NAVY, ha='center', size=FOOT_SIZE)
text(749, 649, '© 2007-2025 ICM, Uniwersytet Warszawski', NAVY, ha='center', size=FOOT_SIZE)
text(320, 50, 'CEST', ha='center', size=HEAD_SIZE)
text(871, 50, 'CEST', ha='center', size=HEAD_SIZE)
text(318, 612, 'UTC', ha='center', size=HEAD_SIZE)
text(872, 612, 'UTC', ha='center', size=HEAD_SIZE)
for x, day_top, day_bottom in [(495, 'pią, 18.07', '18.07'), (649, 'sob, 19.07', '19.07'), (802, 'nie, 20.07', '20.07')]:
    text(x, 37, day_top, ha='center', size=HEAD_SIZE)
    text(x, 625, day_bottom, ha='center', size=HEAD_SIZE)

# side titles
for x, y, s in [(290, 97, 'temperatura'), (305, 97, '(°C)'), (290, 186, 'opad'), (302, 186, '(mm/h, kg/m²/h)'),
                (290, 273, 'ciśnienie'), (302, 273, '(hPa)'), (290, 362, 'wiatr'), (303, 362, '(m/s)'),
                (290, 480, 'pion.  rozciągł. chm.'), (303, 473, '(km)'), (290, 572, 'zachmurzenie'), (303, 563, '(oktanty)'),
                (889, 97, '(°C)'), (902, 97, 'temperatura'), (889, 193, '(%)'), (902, 185, 'wilgotność wzgl.'),
                (890, 273, '(mm Hg)'), (902, 273, 'ciśnienie'), (890, 362, '(km/h)'), (902, 362, 'wiatr'),
                (890, 475, '(km)'), (902, 475, 'widzialność'), (890, 567, '(frakcja)'), (902, 565, 'mgła')]:
    vtext(x, y, s)
for x_w, x_ns, x_e in [(285, 297, 305), (885, 897, 905)]:
    text(x_w, 416, 'W', NAVY, ha='center', size=9)
    text(x_ns, 406, 'N', NAVY, ha='center', size=8.6)
    text(x_ns, 426, 'S', NAVY, ha='center', size=8.6)
    over.text(x_e, 416, 'E', color=NAVY, ha='center', va='center', fontsize=8.6, rotation=90)

fig.savefig('out.png', dpi=100, facecolor='white')
